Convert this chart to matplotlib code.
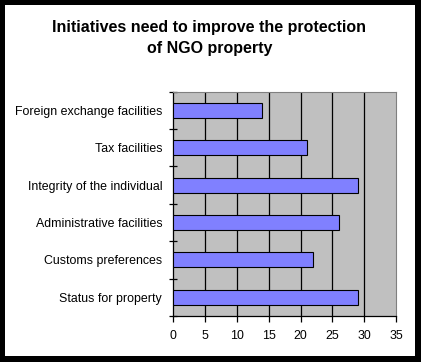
import matplotlib.pyplot as plt
from matplotlib.patches import Rectangle

plt.rcParams['font.family'] = ['Liberation Sans', 'DejaVu Sans']

# data, listed bottom to top as drawn
categories = ["Status for property", "Customs preferences", "Administrative facilities",
              "Integrity of the individual", "Tax facilities", "Foreign exchange facilities"]
values = [29, 22, 26, 29, 21, 14]
xticks = [0, 5, 10, 15, 20, 25, 30, 35]

fig = plt.figure(figsize=(4.21, 3.62), dpi=100)
fig.patch.set_facecolor('black')
# white panel inside the black frame
fig.patches.append(Rectangle((5 / 421, 6 / 362), 410 / 421, 351 / 362,
                             transform=fig.transFigure, facecolor='white',
                             edgecolor='none', zorder=-5))

fig.text(0.497, 1 - 38 / 362, "Initiatives need to improve the protection\nof NGO property",
         ha='center', va='center', fontsize=11.5, fontweight='bold',
         linespacing=1.55)

ax = fig.add_axes([173.3 / 421, 1 - 316 / 362, 222.7 / 421, 224.3 / 362])
ax.set_zorder(2)
ax.set_facecolor('#C0C0C0')

ypos = list(range(len(categories)))
ax.barh(ypos, values, height=0.4, color='#8080FF', edgecolor='black',
        linewidth=0.8, zorder=3)

ax.set_xlim(0, 35)
ax.set_ylim(-0.5, len(categories) - 0.5)
ax.set_xticks(xticks)
ax.set_xticklabels([str(t) for t in xticks])
for t in xticks[1:-1]:
    ax.axvline(t, color='black', linewidth=0.9, zorder=1)

ax.set_yticks(ypos)
ax.set_yticklabels(categories)
ax.set_yticks([i - 0.5 for i in range(len(categories) + 1)], minor=True)
ax.tick_params(axis='y', which='major', length=0, pad=8, labelsize=8.9)
ax.tick_params(axis='y', which='minor', length=6, direction='inout', width=0.9)
ax.tick_params(axis='x', length=4, width=0.9, direction='out', pad=6, labelsize=8.9)

for side in ['top', 'right']:
    ax.spines[side].set_color('#808080')
    ax.spines[side].set_linewidth(0.8)
for side in ['left', 'bottom']:
    ax.spines[side].set_color('black')
    ax.spines[side].set_linewidth(0.9)

fig.savefig('out.png', dpi=100, facecolor=fig.get_facecolor())
